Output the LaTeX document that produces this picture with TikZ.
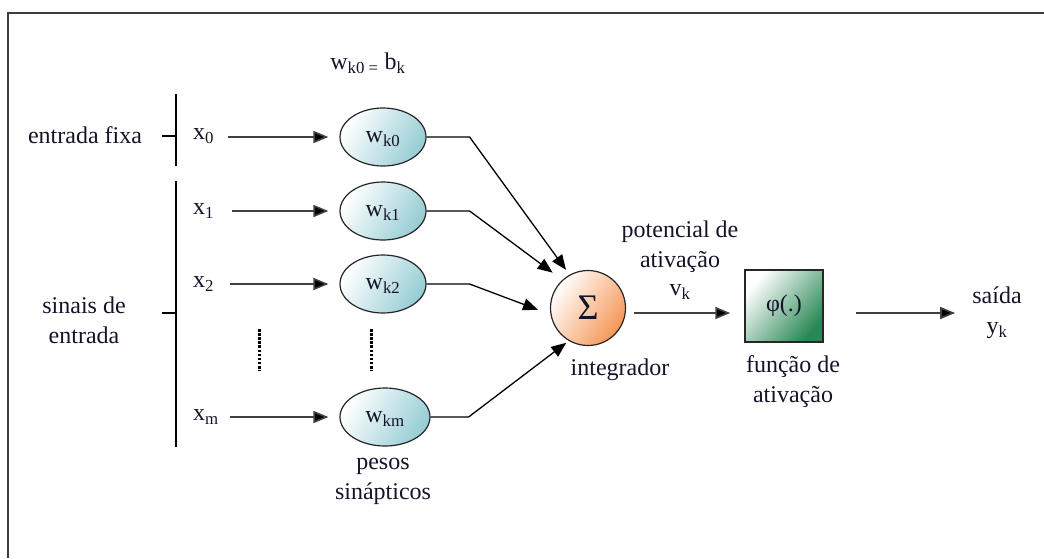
\documentclass[tikz,border=0pt]{standalone}
\usepackage{fontspec}
\setmainfont{Liberation Serif}
\usetikzlibrary{arrows.meta,shapes.geometric,calc}
\definecolor{txt}{RGB}{20,20,40}
\definecolor{ellc}{RGB}{150,205,212}
\definecolor{orng}{RGB}{245,150,85}
\definecolor{grn}{RGB}{40,135,85}
\definecolor{framec}{RGB}{60,60,60}
\begin{document}
\begin{tikzpicture}[x=1pt,y=-1pt,
  lbl/.style={font=\fontsize{24}{30}\selectfont, align=center, inner sep=0pt, text=txt},
  wnode/.style={ellipse, draw=black!85, line width=1.2pt, minimum width=86pt, minimum height=58pt,
    inner sep=0pt, left color=white, right color=ellc, shading angle=60,
    font=\fontsize{24}{24}\selectfont, text=txt, text depth=0pt},
  arr/.style={line width=1.6pt, draw=black!75, -{Triangle[length=15pt,width=12pt,fill=black]}},
  conn/.style={line width=1.3pt, -{Triangle[length=15pt,width=12pt]}},
  bar/.style={line width=1.3pt},
  dots/.style={line width=3pt, dash pattern=on 2.6pt off 1.5pt}]
\useasboundingbox (0,0) rectangle (1044,558);
% frame
\draw[line width=2pt, framec] (1044,13) -- (8,13) -- (8,558);
% top label
\node[lbl] (bias) at (368,63) {w\textsubscript{k0 =} b\textsubscript{k}};
% input bars
\coordinate (b1t) at (176,94);
\coordinate (b1b) at (176,166);
\coordinate (b2t) at (176,181);
\coordinate (b2b) at (176,447);
\draw[bar] (b1t) -- (b1b);
\draw[bar] (b2t) -- (b2b);
\coordinate (t1) at (162,136);
\coordinate (t1e) at (176,136);
\coordinate (t2) at (162,313);
\coordinate (t2e) at (176,313);
\draw[bar] (t1) -- (t1e);
\draw[bar] (t2) -- (t2e);
\node[lbl] (fixa) at (85,135) {entrada fixa};
\node[lbl] (sinais) at (84,320) {sinais de\\entrada};
% inputs
\node[lbl, anchor=west] (x0) at (193,136) {x\textsubscript{0}};
\node[lbl, anchor=west] (x1) at (193,211) {x\textsubscript{1}};
\node[lbl, anchor=west] (x2) at (193,284) {x\textsubscript{2}};
\node[lbl, anchor=west] (xm) at (193,417) {x\textsubscript{m}};
% weights
\node[wnode] (w0) at (383,137) {w\textsubscript{k0}};
\node[wnode] (w1) at (383,211) {w\textsubscript{k1}};
\node[wnode] (w2) at (383,284) {w\textsubscript{k2}};
\node[wnode, minimum width=90pt] (wm) at (385,417) {w\textsubscript{km}};
\coordinate (x0s) at ($(x0.east)+(14,0)$);
\coordinate (x1s) at ($(x1.east)+(18,0)$);
\coordinate (x2s) at ($(x2.east)+(16,0)$);
\coordinate (xms) at ($(xm.east)+(11,0)$);
\coordinate (w0e) at ($(w0.west)+(-11,0)$);
\coordinate (w1e) at ($(w1.west)+(-11,0)$);
\coordinate (w2e) at ($(w2.west)+(-11,0)$);
\coordinate (wme) at ($(wm.west)+(-11,0)$);
\draw[arr] (x0s |- w0e) -- (w0e);
\draw[arr] (x1s |- w1e) -- (w1e);
\draw[arr] (x2s |- w2e) -- (w2e);
\draw[arr] (xms |- wme) -- (wme);
% dots
\coordinate (d1t) at (259,329);
\coordinate (d1b) at (259,371);
\coordinate (d2t) at (371,329);
\coordinate (d2b) at (371,371);
\draw[dots] (d1t) -- (d1b);
\draw[dots] (d2t) -- (d2b);
\node[lbl] (pesos) at (383,481) {pesos\\sinápticos};
% summation
\node[circle, draw=black!85, line width=1.2pt, minimum size=75pt, inner sep=0pt,
  left color=white, right color=orng, shading angle=55,
  font=\fontsize{36}{36}\selectfont, text=txt] (sig) at (588,308) {\raisebox{-4pt}{Σ}};
\node[lbl] (integ) at (620,370) {integrador};
\draw[conn] (w0.east) -- ++(43,0) coordinate (k0) -- ($(sig)+(-120:44)$);
\draw[conn] (w1.east) -- ++(43,0) coordinate (k1) -- ($(sig)+(-135:50)$);
\draw[conn] (w2.east) -- ++(43,0) coordinate (k2) -- ($(sig)+(178:50)$);
\draw[conn] (wm.east) -- ++(38,0) coordinate (km) -- ($(sig)+(122:41)$);
% activation
\node[lbl] (pot) at (680,247) {potencial de\\ativação};
\node[lbl] (vk) at (680,292) {v\textsubscript{k}};
\node[draw=black!85, line width=1.5pt, minimum width=78pt, minimum height=72pt, inner sep=0pt,
  left color=white, right color=grn, shading angle=50,
  font=\fontsize{24}{24}\selectfont, text=txt] (phi) at (784,306) {φ(.)};
\coordinate (s0) at ($(sig.east)+(8,5)$);
\coordinate (s1) at ($(phi.west)+(-14,7)$);
\draw[arr] (s0) -- (s1);
\node[lbl] (func) at (793,382) {função de\\ativação};
\node[lbl] (saida) at (997,313) {saída\\y\textsubscript{k}};
\coordinate (o0) at ($(phi.east)+(32,7)$);
\coordinate (o1) at ($(saida.west)+(-17,0)$);
\draw[arr] (o0) -- (o0 -| o1);
\end{tikzpicture}
\end{document}
